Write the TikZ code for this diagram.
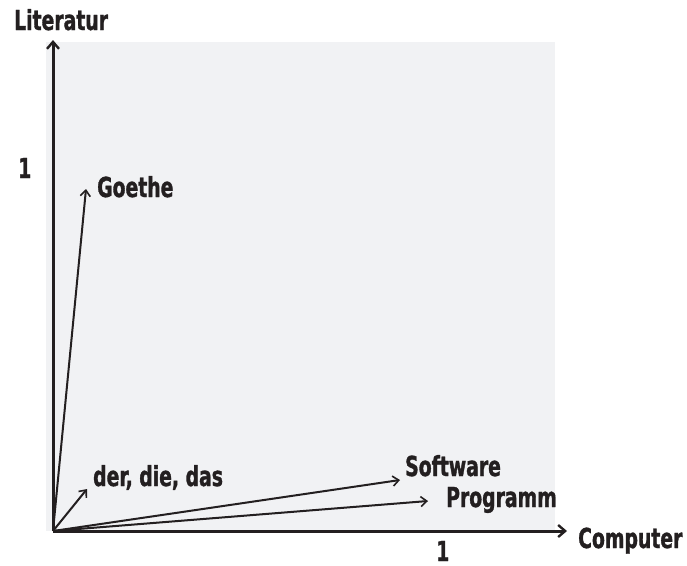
\documentclass[tikz,border=0pt]{standalone}
\usepackage{fontspec}
\newfontfamily\lblfont[FakeStretch=0.76, BoldFeatures={FakeBold=1.2}]{DejaVu Sans Condensed}
\usetikzlibrary{arrows.meta}
\definecolor{ink}{RGB}{35,31,32}
\definecolor{pane}{RGB}{241,242,244}
\tikzset{
  axis/.style={draw=ink, line width=3pt, -{Straight Barb[length=7pt,width=12pt,line width=2.4pt]}},
  vec/.style={draw=ink, line width=2pt, -{Straight Barb[length=6pt,width=10pt,line width=1.6pt]}},
  lbl/.style={anchor=base west, inner sep=0pt, text=ink, font=\fontsize{27.5}{30}\lblfont\bfseries},
}
\begin{document}
\begin{tikzpicture}[x=1pt,y=-1pt]
  \useasboundingbox (0,0) rectangle (687,565);
  % shaded quadrant
  \fill[pane] (46,42) rectangle (555,531);
  % origin and axis ends
  \coordinate (O) at (53,531);
  \coordinate (Ytip) at (53,40);
  \coordinate (Xtip) at (567,531);
  % vector ends
  \coordinate (goethe) at (86,189);
  \coordinate (artikel) at (87,489);
  \coordinate (software) at (400,480);
  \coordinate (programm) at (428,501);
  % vectors
  \draw[vec] (O) -- (goethe);
  \draw[vec] (O) -- (artikel);
  \draw[vec] (O) -- (software);
  \draw[vec] (O) -- (programm);
  % axes
  \draw[axis] (O) -- (Ytip);
  \draw[axis] (O) -- (Xtip);
  % labels
  \node[lbl] (lit) at (14,30) {Literatur};
  \node[lbl] (comp) at (578,548) {Computer};
  \node[lbl] (ly) at (18,178) {1};
  \node[lbl] (lx) at (436,561) {1};
  \node[lbl] (lgoethe) at (97,197) {Goethe};
  \node[lbl] (lart) at (93,486) {der, die, das};
  \node[lbl] (lsoft) at (405,476) {Software};
  \node[lbl] (lprog) at (446,507) {Programm};
\end{tikzpicture}
\end{document}
